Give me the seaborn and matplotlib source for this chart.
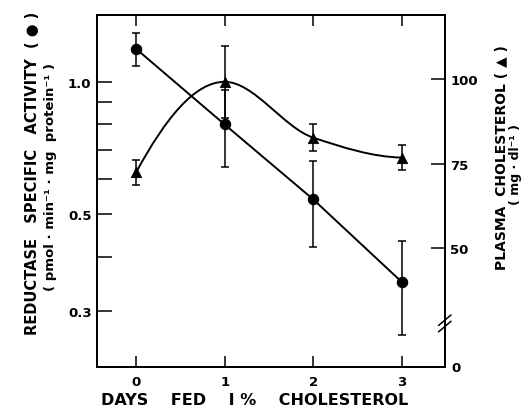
import numpy as np
import matplotlib
matplotlib.use("Agg")
import matplotlib.pyplot as plt
from matplotlib.path import Path
from matplotlib.patches import PathPatch
import seaborn as sns

days = [0, 1, 2, 3]
reductase = [1.19, 0.80, 0.54, 0.35]
reductase_err = [0.10, 0.16, 0.12, 0.085]
cholesterol = [72.4, 99.2, 82.7, 76.8]
cholesterol_err = [3.6, 10.6, 4.0, 3.8]

sns.set_style("ticks", {"text.color": "black", "axes.labelcolor": "black",
                        "xtick.color": "black", "ytick.color": "black",
                        "axes.edgecolor": "black"})
plt.rcParams["font.family"] = ["DejaVu Sans"]
plt.rcParams["font.weight"] = "bold"


def pchip_slopes(x, y):
    # monotone cubic slopes, used only to draw the smooth connecting curve
    x = np.asarray(x, float)
    y = np.asarray(y, float)
    h = np.diff(x)
    d = np.diff(y) / h
    m = np.zeros_like(y)
    for i in range(1, len(y) - 1):
        if d[i - 1] * d[i] > 0:
            w1 = 2 * h[i] + h[i - 1]
            w2 = h[i] + 2 * h[i - 1]
            m[i] = (w1 + w2) / (w1 / d[i - 1] + w2 / d[i])
    for i, (a, b) in [(0, (d[0], d[1])), (-1, (d[-1], d[-2]))]:
        s = (3 * a - b) / 2
        if np.sign(s) != np.sign(a):
            s = 0
        elif np.sign(a) != np.sign(b) and abs(s) > abs(3 * a):
            s = 3 * a
        m[i] = s
    return m


fig = plt.figure(figsize=(5.22, 4.14), dpi=100)
ax = fig.add_axes([0.186, 0.111, 0.666, 0.850])
ax2 = ax.twinx()

# reductase activity: straight segments, log axis
sns.lineplot(x=days, y=reductase, ax=ax, color="black", linewidth=1.4,
             marker="o", markersize=7.5, markeredgecolor="black")
ax.errorbar(days, reductase, yerr=reductase_err, fmt="none", ecolor="black",
            elinewidth=1.1, capsize=3, capthick=1.1)
ax.set_yscale("log")
ax.set_ylim(0.224, 1.42)
ax.set_xlim(-0.44, 3.485)
ax.set_yticks([0.3, 0.5, 1.0])
ax.set_yticklabels(["0.3", "0.5", "1.0"])
ax.set_yticks([0.4, 0.6, 0.7, 0.8, 0.9], minor=True)
ax.yaxis.set_minor_formatter(matplotlib.ticker.NullFormatter())
ax.set_xticks(days)
ax.set_xticklabels(["0", "1", "2", "3"])
ax.tick_params(axis="y", which="both", direction="in", length=11, width=1.1,
               labelsize=9.5, pad=4)
ax.tick_params(axis="x", direction="in", length=8, width=1.1, top=True,
               labelsize=9.5, pad=6)
ax.set_xlabel("")
ax.set_ylabel("")

# plasma cholesterol: smooth curve, linear axis with break
sns.scatterplot(x=days, y=cholesterol, ax=ax2, marker="^", s=55,
                color="black", edgecolor="black", zorder=5)
ax2.errorbar(days, cholesterol, yerr=cholesterol_err, fmt="none",
             ecolor="black", elinewidth=1.1, capsize=3, capthick=1.1)
m = pchip_slopes(days, cholesterol)
verts = [(days[0], cholesterol[0])]
codes = [Path.MOVETO]
for i in range(len(days) - 1):
    h = days[i + 1] - days[i]
    verts += [(days[i] + h / 3, cholesterol[i] + m[i] * h / 3),
              (days[i + 1] - h / 3, cholesterol[i + 1] - m[i + 1] * h / 3),
              (days[i + 1], cholesterol[i + 1])]
    codes += [Path.CURVE4] * 3
ax2.add_patch(PathPatch(Path(verts, codes), fill=False, edgecolor="black",
                        linewidth=1.4))
ax2.set_ylim(14.9, 118.9)
ax2.set_yticks([50, 75, 100])
ax2.set_yticklabels(["50", "75", "100"])
ax2.tick_params(axis="y", direction="in", length=10, width=1.1,
                labelsize=9.5, pad=4)
ax2.text(1.02, 0.0, "0", transform=ax2.transAxes, fontsize=9.5,
         va="center", ha="left")
ax2.set_ylabel("")

# axis break marks on right spine
for dy in (0.0, 0.018):
    ax2.plot([0.982, 1.018], [0.100 + dy, 0.130 + dy], transform=ax2.transAxes,
             color="black", linewidth=1.1, clip_on=False)

for a in (ax, ax2):
    for s in a.spines.values():
        s.set_linewidth(1.4)
        s.set_visible(True)

# axis titles
fig.text(0.487, 0.015, "DAYS    FED    I %    CHOLESTEROL", fontsize=11.5,
         ha="center", va="bottom")
fig.text(0.063, 1 - 173 / 414, "REDUCTASE   SPECIFIC   ACTIVITY  ( \u25cf )",
         rotation=90, fontsize=10.5, ha="center", va="center")
fig.text(0.097, 1 - 177 / 414,
         "( pmol \u00b7 min\u207b\u00b9 \u00b7 mg  protein\u207b\u00b9 )",
         rotation=90, fontsize=9.5, ha="center", va="center")
fig.text(0.962, 1 - 158 / 414, "PLASMA  CHOLESTEROL ( \u25b2 )",
         rotation=90, fontsize=10, ha="center", va="center")
fig.text(0.987, 1 - 165 / 414, "( mg \u00b7 dl\u207b\u00b9 )",
         rotation=90, fontsize=9, ha="center", va="center")

fig.savefig("out.png", dpi=100)
